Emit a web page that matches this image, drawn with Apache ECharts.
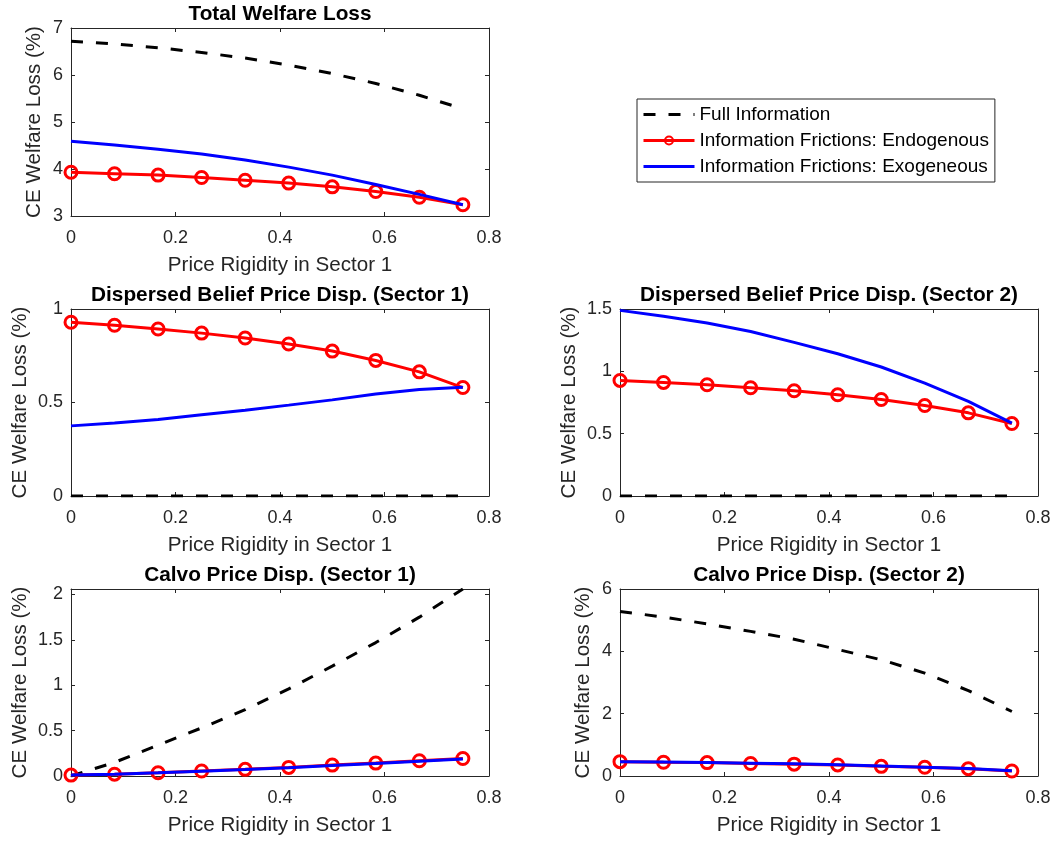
<!DOCTYPE html>
<html>
<head>
<meta charset="utf-8">
<title>CE Welfare Loss and Price Rigidity</title>
<script src="https://cdn.jsdelivr.net/npm/echarts@6/dist/echarts.min.js"></script>
<style>
  html, body { margin: 0; padding: 0; background: #ffffff; }
  #chart { width: 1054px; height: 842px; }
</style>
</head>
<body>
<div id="chart"></div>
<script>
// Price rigidity in sector 1 (x values shared by every panel)
const priceRigidity = [0, 0.0833, 0.1667, 0.25, 0.3333, 0.4167, 0.5, 0.5833, 0.6667, 0.75];

// Total welfare loss
const totalFull = [6.72, 6.66, 6.58, 6.48, 6.36, 6.21, 6.03, 5.82, 5.57, 5.28];
const totalEndo = [3.93, 3.90, 3.87, 3.82, 3.76, 3.70, 3.62, 3.52, 3.40, 3.24];
const totalExo  = [4.59, 4.51, 4.42, 4.32, 4.19, 4.04, 3.87, 3.67, 3.46, 3.24];

// Dispersed belief price dispersion, sector 1
const db1Full = [0, 0, 0, 0, 0, 0, 0, 0, 0, 0];
const db1Endo = [0.929, 0.913, 0.893, 0.871, 0.845, 0.813, 0.775, 0.725, 0.664, 0.580];
const db1Exo  = [0.375, 0.391, 0.409, 0.434, 0.459, 0.486, 0.514, 0.545, 0.570, 0.582];

// Dispersed belief price dispersion, sector 2
const db2Full = [0, 0, 0, 0, 0, 0, 0, 0, 0, 0];
const db2Endo = [0.927, 0.911, 0.892, 0.868, 0.844, 0.812, 0.774, 0.726, 0.667, 0.581];
const db2Exo  = [1.489, 1.441, 1.387, 1.320, 1.232, 1.141, 1.035, 0.906, 0.759, 0.584];

// Calvo price dispersion, sector 1
const calvo1Full = [0.00, 0.15, 0.34, 0.53, 0.73, 0.96, 1.21, 1.47, 1.75, 2.06];
const calvo1Endo = [0.010, 0.020, 0.036, 0.055, 0.073, 0.095, 0.120, 0.142, 0.168, 0.193];
const calvo1Exo  = [0.010, 0.020, 0.035, 0.053, 0.071, 0.092, 0.116, 0.139, 0.163, 0.186];

// Calvo price dispersion, sector 2
const calvo2Full = [5.28, 5.10, 4.88, 4.64, 4.39, 4.06, 3.73, 3.30, 2.74, 2.07];
const calvo2Endo = [0.46, 0.44, 0.43, 0.40, 0.38, 0.355, 0.31, 0.28, 0.235, 0.16];
const calvo2Exo  = [0.46, 0.45, 0.43, 0.41, 0.39, 0.36, 0.32, 0.28, 0.24, 0.17];

// Axis settings
const xTicks = { min: 0, max: 0.8, interval: 0.2 };
const panelTitles = [
  'Total Welfare Loss',
  'Dispersed Belief Price Disp. (Sector 1)',
  'Dispersed Belief Price Disp. (Sector 2)',
  'Calvo Price Disp. (Sector 1)',
  'Calvo Price Disp. (Sector 2)'
];
const yRanges = [
  { min: 3, max: 7, interval: 1 },
  { min: 0, max: 1, interval: 0.5 },
  { min: 0, max: 1.5, interval: 0.5 },
  { min: 0, max: 2.06, interval: 0.5 },
  { min: 0, max: 6, interval: 2 }
];
const panelData = [
  [totalFull, totalEndo, totalExo],
  [db1Full, db1Endo, db1Exo],
  [db2Full, db2Endo, db2Exo],
  [calvo1Full, calvo1Endo, calvo1Exo],
  [calvo2Full, calvo2Endo, calvo2Exo]
];
const seriesNames = [
  'Full Information',
  'Information Frictions: Endogenous',
  'Information Frictions: Exogeneous'
];
const xName = 'Price Rigidity in Sector 1';
const yName = 'CE Welfare Loss (%)';

const FONT = '"Liberation Sans", Arial, Helvetica, sans-serif';
const AXIS_COLOR = '#262626';

const gridBoxes = [
  { left: 71, top: 28, width: 418, height: 188 },
  { left: 71, top: 309, width: 418, height: 187 },
  { left: 620, top: 309, width: 418, height: 187 },
  { left: 71, top: 589, width: 418, height: 187 },
  { left: 620, top: 589, width: 418, height: 187 }
];
// y-label distance from the axis grows with the width of the tick labels
const yNameGaps = [26, 40, 40, 40, 26];

function pairs(ys) {
  return priceRigidity.map((x, i) => [x, ys[i]]);
}

const lineAxis = { show: true, onZero: false, lineStyle: { color: AXIS_COLOR, width: 1 } };
const tickIn = { show: true, inside: true, length: 4, lineStyle: { color: AXIS_COLOR, width: 1 } };

const grid = [], xAxis = [], yAxis = [], series = [];

gridBoxes.forEach((box, g) => {
  grid.push(Object.assign({ containLabel: false }, box));

  // bottom x axis with labels
  xAxis.push(Object.assign({
    type: 'value', gridIndex: g, position: 'bottom',
    axisLine: lineAxis, axisTick: tickIn, splitLine: { show: false },
    axisLabel: { color: AXIS_COLOR, fontSize: 18, fontFamily: FONT, margin: 13 },
    name: xName, nameLocation: 'middle', nameGap: 39,
    nameTextStyle: { color: AXIS_COLOR, fontSize: 20.6, fontFamily: FONT }
  }, xTicks));
  // top x axis closes the box and carries the panel title
  xAxis.push(Object.assign({
    type: 'value', gridIndex: g, position: 'top',
    axisLine: lineAxis, axisTick: tickIn, splitLine: { show: false },
    axisLabel: { show: false },
    name: panelTitles[g], nameLocation: 'middle', nameGap: 3,
    nameTextStyle: { color: '#000000', fontSize: 20.8, fontWeight: 'bold', fontFamily: FONT,
                     verticalAlign: 'bottom' }
  }, xTicks));

  const yr = yRanges[g];
  yAxis.push(Object.assign({
    type: 'value', gridIndex: g, position: 'left',
    axisLine: lineAxis, axisTick: tickIn, splitLine: { show: false },
    axisLabel: { color: AXIS_COLOR, fontSize: 18, fontFamily: FONT, margin: 8,
                 showMaxLabel: g !== 3 },
    name: yName, nameLocation: 'middle', nameGap: yNameGaps[g], nameRotate: 90,
    nameMoveOverlap: false,
    nameTextStyle: { color: AXIS_COLOR, fontSize: 20.6, fontFamily: FONT }
  }, yr));
  yAxis.push(Object.assign({
    type: 'value', gridIndex: g, position: 'right',
    axisLine: lineAxis, axisTick: tickIn, splitLine: { show: false },
    axisLabel: { show: false }
  }, yr));

  const [full, endo, exo] = panelData[g];
  series.push({
    name: seriesNames[0], type: 'line', xAxisIndex: 2 * g, yAxisIndex: 2 * g,
    data: pairs(full), showSymbol: false, symbol: 'none', smooth: false,
    lineStyle: { color: '#000000', width: 3, type: [12, 13] },
    itemStyle: { color: '#000000' }, z: 2
  });
  series.push({
    name: seriesNames[1], type: 'line', xAxisIndex: 2 * g, yAxisIndex: 2 * g,
    data: pairs(endo), symbol: 'circle', symbolSize: 12, showSymbol: true,
    lineStyle: { color: '#ff0000', width: 3 },
    itemStyle: { color: 'rgba(0,0,0,0)', borderColor: '#ff0000', borderWidth: 3 }, z: 3
  });
  series.push({
    name: seriesNames[2], type: 'line', xAxisIndex: 2 * g, yAxisIndex: 2 * g,
    data: pairs(exo), symbol: 'none', showSymbol: false,
    lineStyle: { color: '#0000ff', width: 3 },
    itemStyle: { color: '#0000ff' }, z: 4
  });
});

const hiddenMarker = { color: 'rgba(0,0,0,0)', borderColor: 'rgba(0,0,0,0)', borderWidth: 0 };

const chart = echarts.init(document.getElementById('chart'), null, { renderer: 'canvas' });
chart.setOption({
  animation: false,
  backgroundColor: '#ffffff',
  grid, xAxis, yAxis, series,
  legend: {
    data: [
      { name: seriesNames[0], itemStyle: hiddenMarker },
      { name: seriesNames[1], itemStyle: { color: 'rgba(0,0,0,0)', borderColor: '#ff0000', borderWidth: 2 } },
      { name: seriesNames[2], itemStyle: hiddenMarker }
    ],
    orient: 'vertical',
    left: 637, top: 99,
    padding: [6, 6, 6, 5],
    itemWidth: 51, itemHeight: 10, itemGap: 7,
    lineStyle: { width: 3 },
    backgroundColor: '#ffffff',
    borderColor: AXIS_COLOR, borderWidth: 1,
    textStyle: { color: '#000000', fontSize: 19, fontFamily: FONT },
    selectedMode: false
  }
});
</script>
</body>
</html>
